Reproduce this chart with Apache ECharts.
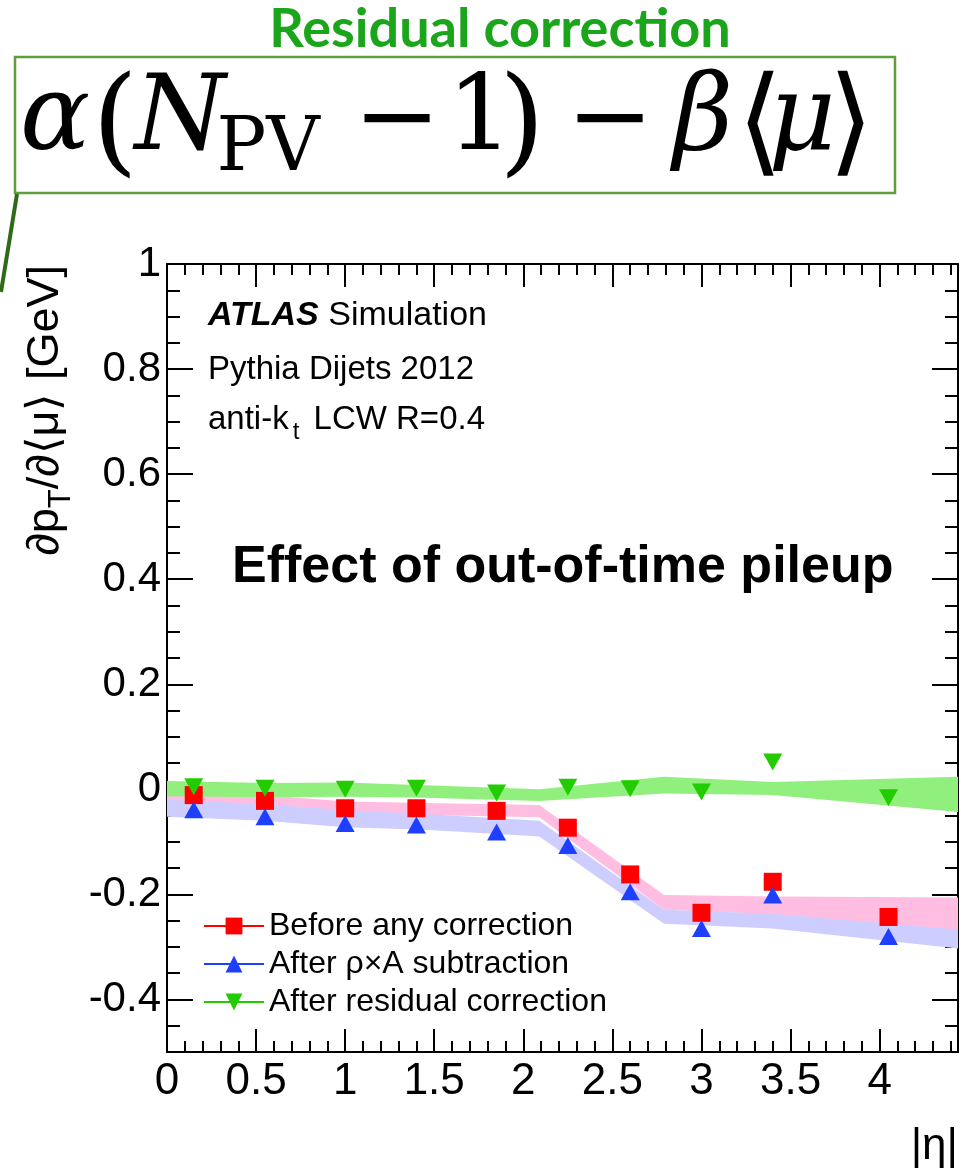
<!DOCTYPE html>
<html>
<head>
<meta charset="utf-8">
<script src="https://cdn.jsdelivr.net/npm/echarts@6/dist/echarts.min.js"></script>
<style>
  html, body { margin: 0; padding: 0; background: #ffffff; }
  #chart { width: 973px; height: 1173px; }
</style>
</head>
<body>
<div id="chart"></div>
<script>
// Pileup slope d pT / d<mu> per |eta| bin, three correction stages
const etaPoints     = [0.15, 0.55, 1.0, 1.4, 1.85, 2.25, 2.6, 3.0, 3.4, 4.05];
const beforeCorr    = [-0.011, -0.022, -0.036, -0.036, -0.041, -0.073, -0.162, -0.235, -0.176, -0.243];
const afterRhoA     = [-0.039, -0.052, -0.065, -0.068, -0.081, -0.107, -0.195, -0.265, -0.201, -0.280];
const afterResidual = [0.005, 0.002, 0.000, 0.002, -0.007, 0.004, 0.001, -0.005, 0.052, -0.016];

// Uncertainty bands (lower / upper edges) along |eta|
const bandEta       = [0, 0.55, 1.0, 1.45, 2.09, 2.79, 3.4, 4.44];
const beforeBandLo  = [-0.028, -0.034, -0.046, -0.049, -0.053, -0.229, -0.238, -0.270];
const beforeBandHi  = [-0.005, -0.011, -0.023, -0.026, -0.030, -0.201, -0.204, -0.206];
const rhoABandLo    = [-0.052, -0.060, -0.072, -0.077, -0.090, -0.256, -0.265, -0.303];
const rhoABandHi    = [-0.020, -0.028, -0.040, -0.047, -0.060, -0.229, -0.237, -0.267];
const residBandLo   = [-0.013, -0.015, -0.014, -0.016, -0.022, -0.008, -0.011, -0.043];
const residBandHi   = [0.016, 0.012, 0.013, 0.008, 0.000, 0.024, 0.014, 0.024];

const seriesNames = ['Before any correction', 'After \u03c1\u00d7A subtraction', 'After residual correction'];
const xTicks = [0, 0.5, 1, 1.5, 2, 2.5, 3, 3.5, 4];
const yTicks = [-0.4, -0.2, 0, 0.2, 0.4, 0.6, 0.8, 1];
const xRange = [0, 4.44];
const yRange = [-0.5, 1];

const SANS = 'Liberation Sans';
const SERIF = 'DejaVu Serif';

const chart = echarts.init(document.getElementById('chart'), null, { renderer: 'canvas' });

function band(lo, hi, color) {
  return {
    type: 'custom',
    silent: true,
    xAxisIndex: 0,
    yAxisIndex: 0,
    data: [[0, 0]],
    renderItem: function (params, api) {
      const pts = [];
      for (let i = 0; i < bandEta.length; i++) pts.push(api.coord([bandEta[i], hi[i]]));
      for (let i = bandEta.length - 1; i >= 0; i--) pts.push(api.coord([bandEta[i], lo[i]]));
      return { type: 'polygon', shape: { points: pts }, style: { fill: color } };
    }
  };
}

function points(name, values, color, symbol, rotate, size) {
  return {
    name: name,
    type: 'line',
    xAxisIndex: 0,
    yAxisIndex: 0,
    data: etaPoints.map((e, i) => [e, values[i]]),
    symbol: symbol,
    symbolRotate: rotate,
    symbolSize: size,
    showSymbol: true,
    itemStyle: { color: color },
    lineStyle: { color: color, width: 0, opacity: 0 },
    emphasis: { disabled: true }
  };
}

function valueAxis(extra) {
  return Object.assign({
    type: 'value',
    gridIndex: 0,
    splitLine: { show: false },
    axisLine: { show: false, onZero: false },
    axisLabel: { show: false },
    axisTick: { show: true, inside: true, lineStyle: { color: '#000', width: 2 } }
  }, extra);
}

const frameLine = { show: true, onZero: false, lineStyle: { color: '#000', width: 2 } };
const tickStyle = { color: '#000', width: 2 };

function txt(x, y, text, style, rotation) {
  return {
    type: 'text', x: x, y: y, rotation: rotation || 0, silent: true, z: 100,
    style: Object.assign({
      text: text, fill: '#000', fontFamily: SANS, fontSize: 32,
      textAlign: 'left', verticalAlign: 'middle'
    }, style)
  };
}

const mathMain = { fontFamily: SERIF, fontSize: 104, textAlign: 'center' };
const mathIt = Object.assign({}, mathMain, { fontStyle: 'italic' });
const mathBig = { fontFamily: SERIF, fontSize: 118, textAlign: 'center' };

const option = {
  animation: false,
  backgroundColor: '#ffffff',
  grid: { left: 167, top: 264, right: 15, bottom: 121, containLabel: false },
  xAxis: [
    valueAxis({ position: 'bottom', min: xRange[0], max: xRange[1], axisLine: frameLine,
      axisTick: { show: true, inside: true, length: 23, customValues: xTicks, lineStyle: tickStyle },
      axisLabel: { show: true, customValues: xTicks, margin: 8, fontSize: 44, fontFamily: SANS, color: '#000' } }),
    valueAxis({ position: 'bottom', min: xRange[0], max: xRange[1], interval: 0.1,
      axisTick: { show: true, inside: true, length: 11, lineStyle: tickStyle } }),
    valueAxis({ position: 'top', min: xRange[0], max: xRange[1], axisLine: frameLine,
      axisTick: { show: true, inside: true, length: 23, customValues: xTicks, lineStyle: tickStyle } }),
    valueAxis({ position: 'top', min: xRange[0], max: xRange[1], interval: 0.1,
      axisTick: { show: true, inside: true, length: 11, lineStyle: tickStyle } })
  ],
  yAxis: [
    valueAxis({ position: 'left', min: yRange[0], max: yRange[1], axisLine: frameLine,
      axisTick: { show: true, inside: true, length: 26, customValues: yTicks, lineStyle: tickStyle },
      axisLabel: { show: true, customValues: yTicks, margin: 6, fontSize: 42, fontFamily: SANS, color: '#000' } }),
    valueAxis({ position: 'left', min: yRange[0], max: yRange[1], interval: 0.05,
      axisTick: { show: true, inside: true, length: 13, lineStyle: tickStyle } }),
    valueAxis({ position: 'right', min: yRange[0], max: yRange[1], axisLine: frameLine,
      axisTick: { show: true, inside: true, length: 26, customValues: yTicks, lineStyle: tickStyle } }),
    valueAxis({ position: 'right', min: yRange[0], max: yRange[1], interval: 0.05,
      axisTick: { show: true, inside: true, length: 13, lineStyle: tickStyle } })
  ],
  legend: {
    orient: 'vertical',
    left: 198,
    top: 905,
    itemWidth: 60,
    itemHeight: 21,
    itemGap: 6,
    selectedMode: false,
    data: seriesNames,
    lineStyle: { width: 2, opacity: 1 },
    textStyle: { fontSize: 32, fontFamily: SANS, color: '#000' }
  },
  series: [
    band(beforeBandLo, beforeBandHi, '#ffbee1'),
    band(rhoABandLo, rhoABandHi, '#cdcdff'),
    band(residBandLo, residBandHi, '#91f07d'),
    points(seriesNames[0], beforeCorr, '#ff0000', 'rect', 0, 18),
    points(seriesNames[1], afterRhoA, '#1f3fff', 'triangle', 0, [19, 17]),
    points(seriesNames[2], afterResidual, '#22cc00', 'triangle', 180, [19, 17])
  ],
  graphic: {
    elements: [
      // heading and formula box
      txt(500, 30, 'Residual correction', { fontFamily: 'Lato', fontWeight: 'bold', fontSize: 54, fill: '#1aa51a', textAlign: 'center' }),
      { type: 'rect', silent: true, shape: { x: 15, y: 57, width: 880, height: 136 },
        style: { fill: 'none', stroke: '#5f9e3a', lineWidth: 2.5 } },
      { type: 'line', silent: true, shape: { x1: 17, y1: 194, x2: 1, y2: 292 },
        style: { stroke: '#2e6b16', lineWidth: 4 } },
      txt(55, 122, '\u03b1', mathIt),
      txt(115, 129, '(', mathBig),
      txt(180, 122, 'N', mathIt),
      txt(268, 151, 'PV', { fontFamily: SERIF, fontSize: 74, textAlign: 'center' }),
      txt(397, 124, '\u2212', mathMain),
      txt(480, 122, '1', mathMain),
      txt(522, 129, ')', mathBig),
      txt(610, 124, '\u2212', mathMain),
      txt(703, 122, '\u03b2', mathIt),
      txt(760, 129, '\u27e8', mathBig),
      txt(802, 122, '\u03bc', mathIt),
      txt(851, 129, '\u27e9', mathBig),

      // annotations inside the frame
      txt(208, 316, '{b|ATLAS} Simulation', {
        fontSize: 34,
        rich: { b: { fontSize: 34, fontFamily: SANS, fontWeight: 'bold', fontStyle: 'italic', fill: '#000' } }
      }),
      txt(208, 370, 'Pythia Dijets 2012', { fontSize: 33 }),
      txt(208, 420, 'anti-k{s|t} LCW R=0.4', {
        fontSize: 33,
        rich: { s: { fontSize: 24, fontFamily: SANS, fill: '#000', padding: [24, 5, 0, 4] } }
      }),
      txt(232, 568, 'Effect of out-of-time pileup', { fontSize: 52, fontWeight: 'bold' }),

      // axis titles
      txt(46, 265, '\u2202p{s|T}/\u2202\u27e8\u03bc\u27e9 [GeV]', {
        fontSize: 45, textAlign: 'right',
        rich: { s: { fontSize: 31, fontFamily: SANS, fill: '#000', padding: [30, 0, 0, 0] } }
      }, Math.PI / 2),
      txt(958, 1147, '|\u03b7|', { fontSize: 44, textAlign: 'right' })
    ]
  }
};

chart.setOption(option);
</script>
</body>
</html>
